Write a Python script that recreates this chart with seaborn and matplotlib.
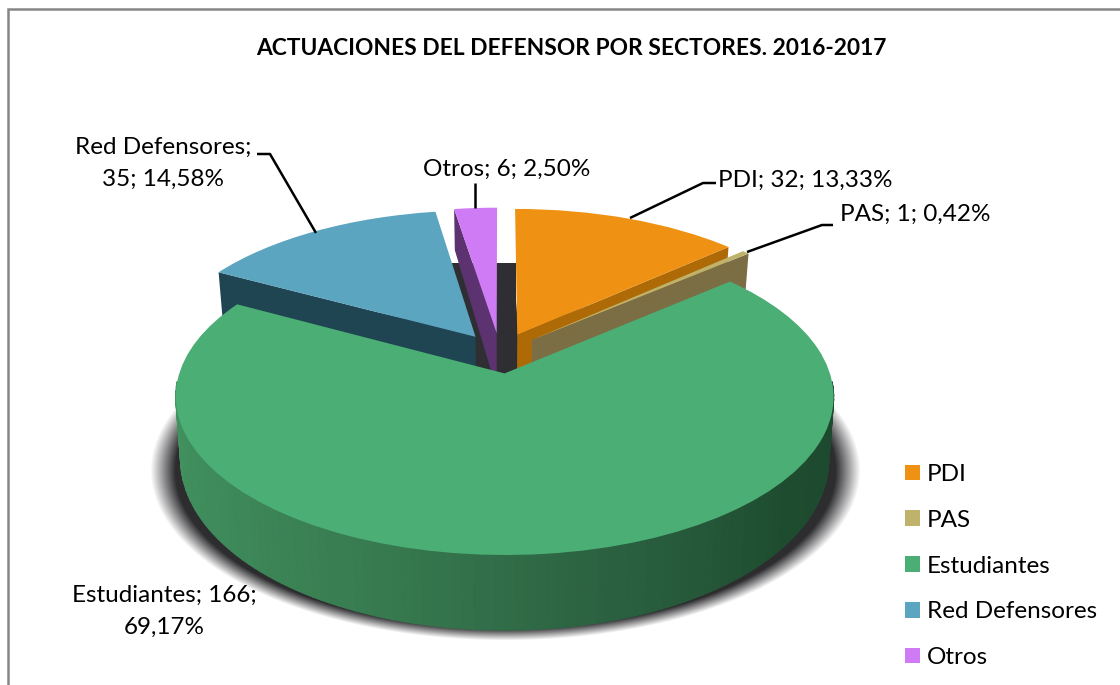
# Actuaciones del defensor por sectores, 3D look built on ax.pie

import numpy as np
import seaborn as sns
import matplotlib
matplotlib.use('Agg')
import matplotlib.pyplot as plt
from matplotlib.transforms import Transform

sectors = ['PDI', 'PAS', 'Estudiantes', 'Red Defensores', 'Otros']
counts = [32, 1, 166, 35, 6]
shares = ['13,33%', '0,42%', '69,17%', '14,58%', '2,50%']
top_colors = ['#EF9213', '#BFB26B', '#4BAE74', '#5BA5C0', '#CF7BF5']
wall_colors = ['#AF6A08', '#7B6E45', '#21495A', '#1F4553', '#5C3270']
green_wall_stops = ['#459462', '#3E8A5A', '#37794F', '#2A6040', '#1E4C2F', '#1D4A2F']
title = 'ACTUACIONES DEL DEFENSOR POR SECTORES. 2016-2017'

X0, Y0, A, B, K = 500, 353, 319, 149, 0.144


def project(x, y, z=0.0):
    # unit pie plane to pixels, z=1 is the underside of the disc
    x, y = np.asarray(x, float), np.asarray(y, float)
    w = 1 + K * y
    return X0 + A * x / w * (1 - 0.015 * z), Y0 - B * y / w + z * (58 - 15 * y)


class Perspective(Transform):
    input_dims = 2
    output_dims = 2

    def transform_non_affine(self, values):
        sx, sy = project(values[:, 0], values[:, 1])
        return np.column_stack([sx, sy])


def radial_wall(ax, wedge, theta, color, zorder):
    cx, cy = wedge.center
    ex = cx + wedge.r * np.cos(np.radians(theta))
    ey = cy + wedge.r * np.sin(np.radians(theta))
    xs = [cx, ex, ex, cx]
    ys = [cy, ey, ey, cy]
    zs = [0, 0, 1, 1]
    px, py = zip(*[project(a, b, c) for a, b, c in zip(xs, ys, zs)])
    ax.fill(px, py, color=color, lw=0, zorder=zorder)


sns.set_theme(style='white')
plt.rcParams['font.family'] = ['Lato', 'DejaVu Sans']

fig = plt.figure(figsize=(11.2, 6.85), dpi=100, facecolor='white')
ax = fig.add_axes([0, 0, 1, 1])

wedges, _ = ax.pie(counts, colors=top_colors, explode=[0.135] * 5, startangle=90,
                   counterclock=False, wedgeprops={'linewidth': 0})
proj = Perspective()
for w in wedges:
    w.set_transform(proj + ax.transData)

# soft shadow under the disc
gx, gy = np.meshgrid(np.arange(120, 900), np.arange(280, 685))
dist = np.sqrt(((gx - 505) / 355) ** 2 + ((gy - 470) / 170) ** 2)
shadow = np.zeros(gx.shape + (4,))
shadow[..., :3] = matplotlib.colors.to_rgb('#2D2D30')
shadow[..., 3] = np.clip((1 - dist) / 0.07, 0, 1)
ax.imshow(shadow, extent=(120, 900, 685, 280), zorder=0, interpolation='bilinear')

# dark inside of the disc seen through the gaps
ax.fill([452, 516, 516, 505, 452], [263, 263, 368, 373, 360], color='#2F2F33', lw=0, zorder=1)

# painter's order: PDI, PAS, Otros, Red, Estudiantes
pdi, pas, est, red, otros = wedges
radial_wall(ax, pdi, pdi.theta1, wall_colors[0], 2)
pdi.set_zorder(3)
radial_wall(ax, pas, pas.theta1, wall_colors[1], 4)
pas.set_zorder(5)
radial_wall(ax, otros, otros.theta2, wall_colors[4], 6)
otros.set_zorder(7)
radial_wall(ax, red, red.theta2, wall_colors[3], 8)
red.set_zorder(9)
est.set_zorder(11)

n_strips = 110
angles = np.linspace(-177, -3, n_strips + 1)
strip_colors = sns.blend_palette(green_wall_stops, n_colors=n_strips)
cx, cy = est.center
for i in range(n_strips):
    t = np.radians(angles[i:i + 2])
    ex, ey = cx + np.cos(t), cy + np.sin(t)
    x1, y1 = project(ex, ey)
    x2, y2 = project(ex[::-1], ey[::-1], 1.0)
    ax.fill(np.r_[x1, x2], np.r_[y1, y2], color=strip_colors[i], lw=1, zorder=10)

# leader lines
leader_kw = dict(color='black', lw=1.8, solid_capstyle='butt', zorder=12)
ax.plot([257, 270, 316], [154, 154, 233], **leader_kw)
ax.plot([475, 475], [183, 208], **leader_kw)
ax.plot([630, 703, 716], [218, 183, 183], **leader_kw)
ax.plot([747, 822, 833], [252, 225, 225], **leader_kw)

# data labels
lab = dict(fontsize=17.5, color='black', ha='center', va='center', zorder=13)
ax.text(163, 147, f'{sectors[3]};', **lab)
ax.text(163, 179, f'{counts[3]}; {shares[3]}', **lab)
ax.text(507, 169, f'{sectors[4]}; {counts[4]}; {shares[4]}', **lab)
ax.text(805, 180, f'{sectors[0]}; {counts[0]}; {shares[0]}', **lab)
ax.text(915, 214, f'{sectors[1]}; {counts[1]}; {shares[1]}', **lab)
ax.text(164, 595, f'{sectors[2]}; {counts[2]};', **lab)
ax.text(164, 627, shares[2], **lab)

ax.text(571, 48, title, fontsize=16.4, fontweight='bold', color='black',
        ha='center', va='center', zorder=13)

# chart border, cropped at the bottom and right
ax.plot([8, 8, 1120], [685, 9, 9], color='#868686', lw=1.8, solid_joinstyle='miter', zorder=14)

ax.set_aspect('auto')
ax.set_xlim(0, 1120)
ax.set_ylim(685, 0)
ax.axis('off')

ax.legend(wedges, sectors, loc='upper left', bbox_to_anchor=(905 / 1120, 1 - 464 / 685),
          frameon=False, fontsize=17.5, labelcolor='black', labelspacing=1.02, handlelength=0.62,
          handleheight=0.62, handletextpad=0.28, borderaxespad=0, borderpad=0)

fig.savefig('out.png', dpi=100)
